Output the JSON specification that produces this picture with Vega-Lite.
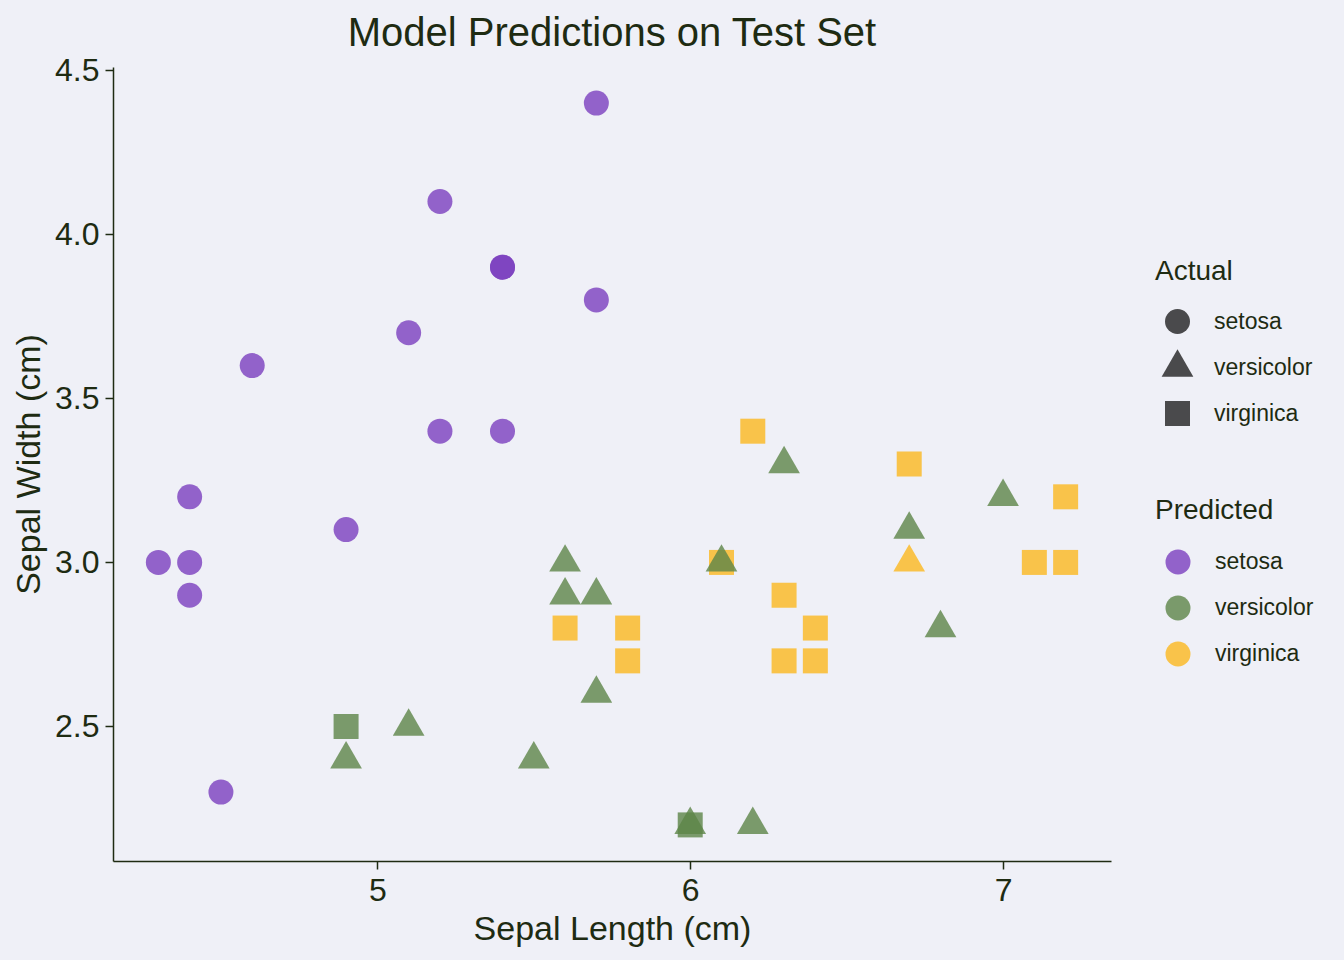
{
  "$schema": "https://vega.github.io/schema/vega-lite/v6.json",
  "width": 998,
  "height": 794,
  "autosize": "none",
  "padding": {"left": 113, "top": 67, "right": 233, "bottom": 99},
  "background": "#EFF0F7",
  "title": {
    "text": "Model Predictions on Test Set",
    "anchor": "middle",
    "frame": "group",
    "offset": 0,
    "fontSize": 40,
    "fontWeight": "normal",
    "font": "Liberation Sans",
    "color": "#1E2B12"
  },
  "data": {
    "values": [
      {"x": 5.7, "y": 4.4, "actual": "setosa", "predicted": "setosa"},
      {"x": 5.2, "y": 4.1, "actual": "setosa", "predicted": "setosa"},
      {"x": 5.4, "y": 3.9, "actual": "setosa", "predicted": "setosa"},
      {"x": 5.4, "y": 3.9, "actual": "setosa", "predicted": "setosa"},
      {"x": 5.7, "y": 3.8, "actual": "setosa", "predicted": "setosa"},
      {"x": 5.1, "y": 3.7, "actual": "setosa", "predicted": "setosa"},
      {"x": 4.6, "y": 3.6, "actual": "setosa", "predicted": "setosa"},
      {"x": 5.2, "y": 3.4, "actual": "setosa", "predicted": "setosa"},
      {"x": 5.4, "y": 3.4, "actual": "setosa", "predicted": "setosa"},
      {"x": 4.4, "y": 3.2, "actual": "setosa", "predicted": "setosa"},
      {"x": 4.9, "y": 3.1, "actual": "setosa", "predicted": "setosa"},
      {"x": 4.3, "y": 3.0, "actual": "setosa", "predicted": "setosa"},
      {"x": 4.4, "y": 3.0, "actual": "setosa", "predicted": "setosa"},
      {"x": 4.4, "y": 2.9, "actual": "setosa", "predicted": "setosa"},
      {"x": 4.5, "y": 2.3, "actual": "setosa", "predicted": "setosa"},
      {"x": 6.3, "y": 3.3, "actual": "versicolor", "predicted": "versicolor"},
      {"x": 7.0, "y": 3.2, "actual": "versicolor", "predicted": "versicolor"},
      {"x": 6.7, "y": 3.1, "actual": "versicolor", "predicted": "versicolor"},
      {"x": 5.6, "y": 3.0, "actual": "versicolor", "predicted": "versicolor"},
      {"x": 5.6, "y": 2.9, "actual": "versicolor", "predicted": "versicolor"},
      {"x": 5.7, "y": 2.9, "actual": "versicolor", "predicted": "versicolor"},
      {"x": 6.8, "y": 2.8, "actual": "versicolor", "predicted": "versicolor"},
      {"x": 5.7, "y": 2.6, "actual": "versicolor", "predicted": "versicolor"},
      {"x": 5.1, "y": 2.5, "actual": "versicolor", "predicted": "versicolor"},
      {"x": 4.9, "y": 2.4, "actual": "versicolor", "predicted": "versicolor"},
      {"x": 5.5, "y": 2.4, "actual": "versicolor", "predicted": "versicolor"},
      {"x": 6.2, "y": 2.2, "actual": "versicolor", "predicted": "versicolor"},
      {"x": 4.9, "y": 2.5, "actual": "virginica", "predicted": "versicolor"},
      {"x": 6.0, "y": 2.2, "actual": "virginica", "predicted": "versicolor"},
      {"x": 6.0, "y": 2.2, "actual": "versicolor", "predicted": "versicolor"},
      {"x": 6.7, "y": 3.0, "actual": "versicolor", "predicted": "virginica"},
      {"x": 6.2, "y": 3.4, "actual": "virginica", "predicted": "virginica"},
      {"x": 6.7, "y": 3.3, "actual": "virginica", "predicted": "virginica"},
      {"x": 7.2, "y": 3.2, "actual": "virginica", "predicted": "virginica"},
      {"x": 7.1, "y": 3.0, "actual": "virginica", "predicted": "virginica"},
      {"x": 7.2, "y": 3.0, "actual": "virginica", "predicted": "virginica"},
      {"x": 6.1, "y": 3.0, "actual": "virginica", "predicted": "virginica"},
      {"x": 5.6, "y": 2.8, "actual": "virginica", "predicted": "virginica"},
      {"x": 5.8, "y": 2.8, "actual": "virginica", "predicted": "virginica"},
      {"x": 5.8, "y": 2.7, "actual": "virginica", "predicted": "virginica"},
      {"x": 6.3, "y": 2.9, "actual": "virginica", "predicted": "virginica"},
      {"x": 6.4, "y": 2.8, "actual": "virginica", "predicted": "virginica"},
      {"x": 6.3, "y": 2.7, "actual": "virginica", "predicted": "virginica"},
      {"x": 6.4, "y": 2.7, "actual": "virginica", "predicted": "virginica"},
      {"x": 6.1, "y": 3.0, "actual": "versicolor", "predicted": "versicolor"}
    ]
  },
  "mark": {"type": "point", "filled": true, "opacity": 0.8, "size": 625, "strokeWidth": 0},
  "encoding": {
    "x": {
      "field": "x", "type": "quantitative", "title": "Sepal Length (cm)",
      "scale": {"domain": [4.155, 7.345], "nice": false, "zero": false},
      "axis": {"values": [5, 6, 7], "format": "d", "labelPadding": 6, "titlePadding": 6}
    },
    "y": {
      "field": "y", "type": "quantitative", "title": "Sepal Width (cm)",
      "scale": {"domain": [2.09, 4.51], "nice": false, "zero": false},
      "axis": {"values": [2.5, 3.0, 3.5, 4.0, 4.5], "format": ".1f", "labelPadding": 6, "titlePadding": 8}
    },
    "color": {
      "field": "predicted", "type": "nominal", "title": "Predicted",
      "scale": {"range": ["#7A3EBE", "#5C8447", "#FBB81E"]},
      "legend": {
        "orient": "none", "legendX": 1042, "legendY": 430,
        "symbolType": "circle", "symbolOpacity": 0.8,
        "symbolStrokeWidth": 1, "rowPadding": 20, "titlePadding": 24
      }
    },
    "shape": {
      "field": "actual", "type": "nominal", "title": "Actual",
      "scale": {"range": ["circle", "M0,-1.464L1.268,0.733L-1.268,0.733Z", "square"]},
      "legend": {
        "orient": "none", "legendX": 1042, "legendY": 191,
        "gridAlign": "all", "rowPadding": 15, "titlePadding": 23,
        "symbolFillColor": "#4A4A4C", "symbolOpacity": 1,
        "encode": {"symbols": {"update": {"fill": {"value": "#4A4A4C"}, "opacity": {"value": 1}, "strokeWidth": {"value": 0}}}}
      }
    }
  },
  "config": {
    "view": {"stroke": null},
    "font": "Liberation Sans",
    "axis": {
      "grid": false,
      "domainColor": "#1E2B12",
      "domainWidth": 1.5,
      "tickColor": "#1E2B12",
      "tickWidth": 1.5,
      "tickSize": 8,
      "labelFont": "Liberation Sans",
      "labelFontSize": 32,
      "labelColor": "#1E2B12",
      "titleFont": "Liberation Sans",
      "titleFontSize": 34,
      "titleFontWeight": "normal",
      "titleColor": "#1E2B12"
    },
    "legend": {
      "titleFont": "Liberation Sans",
      "titleFontSize": 28,
      "titleFontWeight": "normal",
      "titleColor": "#1E2B12",
      "labelFont": "Liberation Sans",
      "labelFontSize": 23,
      "labelColor": "#1E2B12",
      "symbolSize": 625,
      "rowPadding": 21,
      "titlePadding": 22,
      "symbolOffset": 10,
      "labelOffset": 24,
      "padding": 0
    }
  }
}
